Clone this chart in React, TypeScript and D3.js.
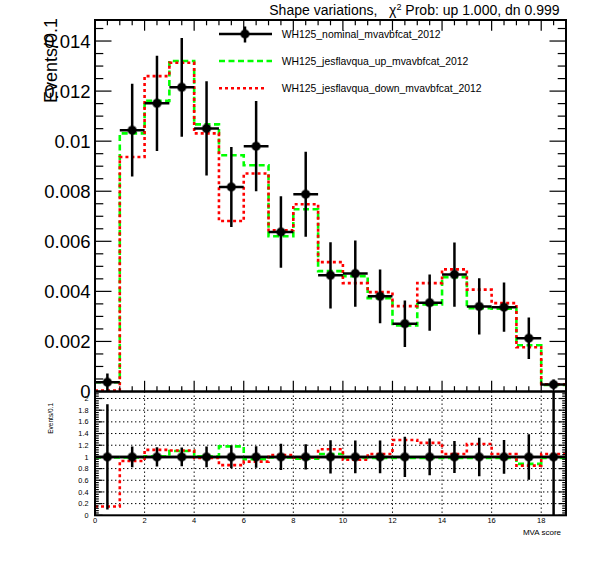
import React, { useRef, useEffect } from "react";
import * as d3 from "d3";

// bins of width 1 on [0, 19]
const binLow = d3.range(0, 19);
const nominal = [0.00037, 0.01044, 0.01151, 0.01215, 0.01051, 0.00817, 0.0098, 0.00637, 0.00788, 0.00464, 0.00471, 0.0038, 0.00271, 0.00355, 0.00467, 0.0034, 0.00337, 0.00213, 0.00028];
const nominalErr = [0.00035, 0.00185, 0.0019, 0.00197, 0.00188, 0.0016, 0.0018, 0.00143, 0.0017, 0.00132, 0.00132, 0.00107, 0.00093, 0.00112, 0.00128, 0.00112, 0.00098, 0.00083, 0.0002];
const jesUp = [0.00037, 0.01031, 0.01161, 0.0132, 0.01067, 0.00944, 0.00904, 0.0062, 0.00728, 0.00481, 0.00461, 0.00373, 0.00264, 0.00348, 0.00457, 0.00333, 0.00331, 0.00185, 0.00026];
const jesDown = [0.00004, 0.00937, 0.0126, 0.01313, 0.01031, 0.00681, 0.00871, 0.00644, 0.00748, 0.00517, 0.00433, 0.00397, 0.00341, 0.00433, 0.00488, 0.00407, 0.00353, 0.00177, 0.00029];

const ratioUp = [0.99, 0.99, 1.01, 1.1, 1.01, 1.18, 0.96, 0.99, 0.97, 1.05, 0.98, 0.98, 0.98, 0.98, 0.98, 0.98, 0.98, 0.88, 0.98];
const ratioDown = [0.15, 0.93, 1.12, 1.11, 0.98, 0.86, 0.92, 1.03, 0.99, 1.13, 0.95, 1.05, 1.29, 1.24, 1.05, 1.22, 1.05, 0.85, 1.05];
const ratioErr = [0.9, 0.177, 0.165, 0.162, 0.179, 0.196, 0.184, 0.224, 0.216, 0.284, 0.28, 0.28, 0.343, 0.315, 0.274, 0.33, 0.29, 0.39, 1.5];

const upperYTicks = [0, 0.002, 0.004, 0.006, 0.008, 0.01, 0.012, 0.014];
const lowerYTicks = [0, 0.2, 0.4, 0.6, 0.8, 1, 1.2, 1.4, 1.6, 1.8, 2];
const xTicks = [0, 2, 4, 6, 8, 10, 12, 14, 16, 18];

const legendNames = [
  "WH125_nominal_mvavbfcat_2012",
  "WH125_jesflavqua_up_mvavbfcat_2012",
  "WH125_jesflavqua_down_mvavbfcat_2012",
];

const font = "'Liberation Sans', Arial, Helvetica, sans-serif";
const GREEN = "#00ff00";
const RED = "#ff0000";

const App: React.FC = () => {
  const svgRef = useRef<SVGSVGElement>(null);

  useEffect(() => {
    const svg = d3.select(svgRef.current);
    svg.selectAll("*").remove();

    const left = 95, right = 566;
    const upTop = 20, upBottom = 391.5;
    const loTop = 391.5, loBottom = 515.3;

    const x = d3.scaleLinear().domain([0, 19]).range([left, right]);
    const yUp = d3.scaleLinear().domain([0, 0.01484]).range([upBottom, upTop]);
    const yLo = d3.scaleLinear().domain([0, 2.12]).range([loBottom, loTop]);

    svg.append("rect").attr("width", 596).attr("height", 572).attr("fill", "white");

    const defs = svg.append("defs");
    defs.append("clipPath").attr("id", "clipUp").append("rect")
      .attr("x", left).attr("y", upTop).attr("width", right - left).attr("height", upBottom - upTop);
    defs.append("clipPath").attr("id", "clipLo").append("rect")
      .attr("x", left).attr("y", loTop).attr("width", right - left).attr("height", loBottom - loTop);

    const stepPts = (vals: number[]) => {
      const pts: [number, number][] = vals.map((v, i) => [binLow[i], v]);
      pts.push([19, vals[vals.length - 1]]);
      return pts;
    };

    // ---------- lower pad grid ----------
    const lo = svg.append("g");
    const grid = lo.append("g").attr("stroke", "black").attr("stroke-width", 1).attr("stroke-dasharray", "1.4,2.6");
    lowerYTicks.filter((t) => t > 0).forEach((t) => {
      grid.append("line").attr("x1", left).attr("x2", right).attr("y1", yLo(t)).attr("y2", yLo(t));
    });
    xTicks.filter((t) => t > 0).forEach((t) => {
      grid.append("line").attr("x1", x(t)).attr("x2", x(t)).attr("y1", loTop).attr("y2", loBottom);
    });

    // ---------- histograms ----------
    const drawSteps = (g: any, vals: number[], ys: d3.ScaleLinear<number, number>, color: string, dash: string, clip: string) => {
      const line = d3.line<[number, number]>()
        .x((d) => x(d[0]))
        .y((d) => ys(d[1]))
        .curve(d3.curveStepAfter);
      g.append("path")
        .attr("d", line(stepPts(vals)))
        .attr("fill", "none")
        .attr("stroke", color)
        .attr("stroke-width", 2.6)
        .attr("stroke-dasharray", dash)
        .attr("clip-path", `url(#${clip})`);
    };

    const up = svg.append("g");
    drawSteps(up, jesUp, yUp, GREEN, "6,3.5", "clipUp");
    drawSteps(up, jesDown, yUp, RED, "3,3", "clipUp");

    // nominal ratio line at 1
    lo.append("line").attr("x1", left).attr("x2", right).attr("y1", yLo(1)).attr("y2", yLo(1))
      .attr("stroke", "black").attr("stroke-width", 2.5);
    drawSteps(lo, ratioUp, yLo, GREEN, "6,3.5", "clipLo");
    drawSteps(lo, ratioDown, yLo, RED, "3,3", "clipLo");

    // ---------- points with errors ----------
    const drawPoints = (g: any, vals: number[], errs: number[], ys: d3.ScaleLinear<number, number>, clip: string) => {
      const pg = g.append("g").attr("clip-path", `url(#${clip})`);
      vals.forEach((v, i) => {
        const cx = x(binLow[i] + 0.5);
        pg.append("line").attr("x1", x(binLow[i])).attr("x2", x(binLow[i] + 1))
          .attr("y1", ys(v)).attr("y2", ys(v)).attr("stroke", "black").attr("stroke-width", 2.5);
        pg.append("line").attr("x1", cx).attr("x2", cx)
          .attr("y1", ys(v - errs[i])).attr("y2", ys(v + errs[i])).attr("stroke", "black").attr("stroke-width", 2.5);
      });
      vals.forEach((v, i) => {
        pg.append("circle").attr("cx", x(binLow[i] + 0.5)).attr("cy", ys(v)).attr("r", 4)
          .attr("fill", "black").attr("stroke", "rgba(0,0,0,0.45)").attr("stroke-width", 2);
      });
    };
    drawPoints(up, nominal, nominalErr, yUp, "clipUp");
    drawPoints(lo, nominal.map(() => 1), ratioErr, yLo, "clipLo");

    // ---------- frames ----------
    svg.append("rect").attr("x", left).attr("y", upTop).attr("width", right - left).attr("height", upBottom - upTop)
      .attr("fill", "none").attr("stroke", "black").attr("stroke-width", 2);
    svg.append("rect").attr("x", left).attr("y", loTop).attr("width", right - left).attr("height", loBottom - loTop)
      .attr("fill", "none").attr("stroke", "black").attr("stroke-width", 2);

    // ---------- ticks ----------
    const ticks = svg.append("g").attr("stroke", "black").attr("stroke-width", 1.2);
    // upper x ticks (bottom and top)
    d3.range(0, 39).forEach((k) => {
      const v = k * 0.5;
      const len = k % 4 === 0 ? 10.7 : 5.3;
      ticks.append("line").attr("x1", x(v)).attr("x2", x(v)).attr("y1", upBottom).attr("y2", upBottom - len);
      ticks.append("line").attr("x1", x(v)).attr("x2", x(v)).attr("y1", upTop).attr("y2", upTop + len);
    });
    // upper y ticks (left and right)
    d3.range(0, 30).forEach((k) => {
      const v = k * 0.0005;
      if (v > 0.01484) return;
      const len = k % 4 === 0 ? 16.5 : 8.3;
      ticks.append("line").attr("x1", left).attr("x2", left + len).attr("y1", yUp(v)).attr("y2", yUp(v));
      ticks.append("line").attr("x1", right).attr("x2", right - len).attr("y1", yUp(v)).attr("y2", yUp(v));
    });
    // lower y ticks (left and right)
    d3.range(0, 54).forEach((k) => {
      const v = k * 0.04;
      if (v > 2.12) return;
      const len = k % 5 === 0 ? 7.5 : 3.8;
      ticks.append("line").attr("x1", left).attr("x2", left + len).attr("y1", yLo(v)).attr("y2", yLo(v));
      ticks.append("line").attr("x1", right).attr("x2", right - len).attr("y1", yLo(v)).attr("y2", yLo(v));
    });

    // ---------- labels ----------
    const txt = svg.append("g").attr("font-family", font).attr("fill", "black");
    upperYTicks.forEach((t) => {
      txt.append("text").attr("x", 90.5).attr("y", yUp(t)).attr("dy", "0.36em")
        .attr("text-anchor", "end").attr("font-size", 18.5).text(String(t));
    });
    lowerYTicks.forEach((t) => {
      txt.append("text").attr("x", 88.5).attr("y", yLo(t)).attr("dy", "0.36em")
        .attr("text-anchor", "end").attr("font-size", 7.3).text(String(+t.toFixed(1)));
    });
    xTicks.forEach((t) => {
      txt.append("text").attr("x", x(t)).attr("y", 523)
        .attr("text-anchor", "middle").attr("font-size", 7.5).text(String(t));
    });
    txt.append("text").attr("x", 561).attr("y", 534.5).attr("text-anchor", "end")
      .attr("font-size", 8).text("MVA score");

    txt.append("text").attr("transform", "translate(56.5,18) rotate(-90)")
      .attr("text-anchor", "end").attr("font-size", 18).text("Events/0.1");
    txt.append("text").attr("transform", "translate(53.3,403) rotate(-90)")
      .attr("text-anchor", "end").attr("font-size", 6.5).text("Events/0.1");

    const title = txt.append("text").attr("x", 559.5).attr("y", 15).attr("text-anchor", "end").attr("font-size", 14);
    title.append("tspan").text("Shape variations,\u00a0\u00a0\u00a0\u03c7");
    title.append("tspan").attr("font-size", 9).attr("dy", -5.5).text("2");
    title.append("tspan").attr("dy", 5.5).text("\u00a0Prob: up 1.000, dn 0.999");

    // ---------- legend ----------
    const legend = svg.append("g");
    const rows = [34, 61, 88.3];
    const lx1 = 219, lx2 = 272;
    legend.append("line").attr("x1", lx1).attr("x2", lx2).attr("y1", rows[0]).attr("y2", rows[0])
      .attr("stroke", "black").attr("stroke-width", 2.5);
    legend.append("line").attr("x1", 245).attr("x2", 245).attr("y1", rows[0] - 7.5).attr("y2", rows[0] + 8.5)
      .attr("stroke", "black").attr("stroke-width", 2.5);
    legend.append("circle").attr("cx", 245).attr("cy", rows[0]).attr("r", 4)
      .attr("fill", "black").attr("stroke", "rgba(0,0,0,0.45)").attr("stroke-width", 2);
    legend.append("line").attr("x1", lx1).attr("x2", lx2).attr("y1", rows[1]).attr("y2", rows[1])
      .attr("stroke", GREEN).attr("stroke-width", 2.6).attr("stroke-dasharray", "6,3.5");
    legend.append("line").attr("x1", lx1).attr("x2", lx2 - 6).attr("y1", rows[2]).attr("y2", rows[2])
      .attr("stroke", RED).attr("stroke-width", 2.6).attr("stroke-dasharray", "3,3");
    legendNames.forEach((name, i) => {
      legend.append("text").attr("x", 281.7).attr("y", rows[i]).attr("dy", "0.35em")
        .attr("font-family", font).attr("font-size", 10.4).text(name);
    });
  }, []);

  return (
    <svg
      ref={svgRef}
      width={596}
      height={572}
      style={{ position: "absolute", left: 0, top: 0 }}
    ></svg>
  );
};

export default App;
